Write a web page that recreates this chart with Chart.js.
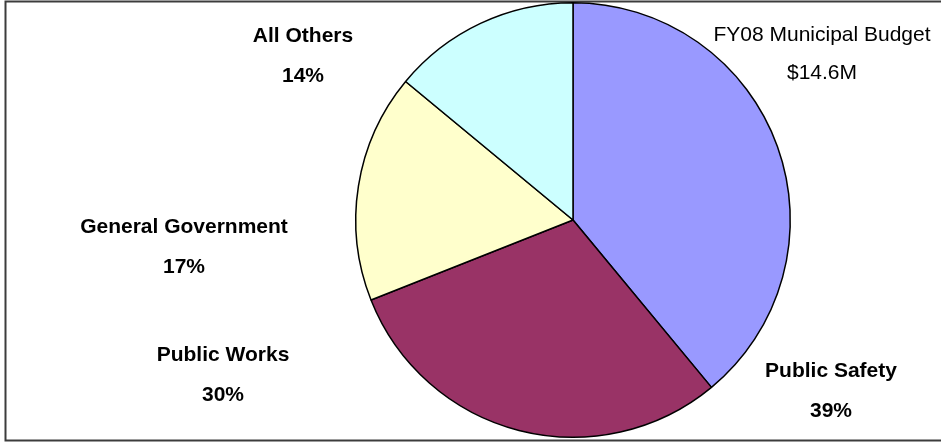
<!DOCTYPE html>
<html>
<head>
<meta charset="utf-8">
<title>FY08 Municipal Budget</title>
<script src="https://cdn.jsdelivr.net/npm/chart.js@4"></script>
<style>
  html, body { margin: 0; padding: 0; background: #fff; }
  canvas { display: block; }
</style>
</head>
<body>
<canvas id="budgetChart" width="941" height="442"></canvas>
<script>
const categories = ['Public Safety', 'Public Works', 'General Government', 'All Others'];
const shares = [39, 30, 17, 14];
const titleLines = ['FY08 Municipal Budget', '$14.6M'];

const sliceColors = ['#9999FF', '#993366', '#FFFFCC', '#CCFFFF'];
// baseline of the category name for each slice; the percent sits one line below
const labelAnchors = [[831, 377], [223, 361], [184, 233], [303, 42]];
const lineGap = 40;

const ctx = document.getElementById('budgetChart');

// frame around the plot, its right edge runs off the canvas
const framePlugin = {
    id: 'frame',
    beforeDraw(chart) {
        const c = chart.ctx;
        c.save();
        c.fillStyle = '#fff';
        c.fillRect(0, 0, chart.width, chart.height);
        c.strokeStyle = '#3c3c3c';
        c.lineWidth = 2;
        c.beginPath();
        c.moveTo(chart.width + 5, 1.5);
        c.lineTo(5.5, 1.5);
        c.lineTo(5.5, 440.5);
        c.lineTo(chart.width + 5, 440.5);
        c.stroke();
        c.restore();
    }
};

const labelPlugin = {
    id: 'sliceLabels',
    afterDraw(chart) {
        const c = chart.ctx;
        c.save();
        c.fillStyle = '#000';
        c.textAlign = 'center';
        c.textBaseline = 'alphabetic';

        c.font = 'bold 21px "Liberation Sans", Arial, sans-serif';
        categories.forEach((name, i) => {
            const [x, y] = labelAnchors[i];
            c.fillText(name, x, y);
            c.fillText(shares[i] + '%', x, y + lineGap);
        });

        c.font = '21px "Liberation Sans", Arial, sans-serif';
        c.fillText(titleLines[0], 822, 41);
        c.fillText(titleLines[1], 822, 41 + lineGap - 2);
        c.restore();
    }
};

new Chart(ctx, {
    type: 'pie',
    data: {
        labels: categories,
        datasets: [{
            data: shares,
            backgroundColor: sliceColors,
            borderColor: '#000',
            borderWidth: 1.5
        }]
    },
    options: {
        responsive: false,
        animation: false,
        rotation: 0,
        layout: {
            padding: { left: 355, right: 150, top: 2, bottom: 4 }
        },
        plugins: {
            legend: { display: false },
            tooltip: { enabled: false }
        }
    },
    plugins: [framePlugin, labelPlugin]
});
</script>
</body>
</html>
